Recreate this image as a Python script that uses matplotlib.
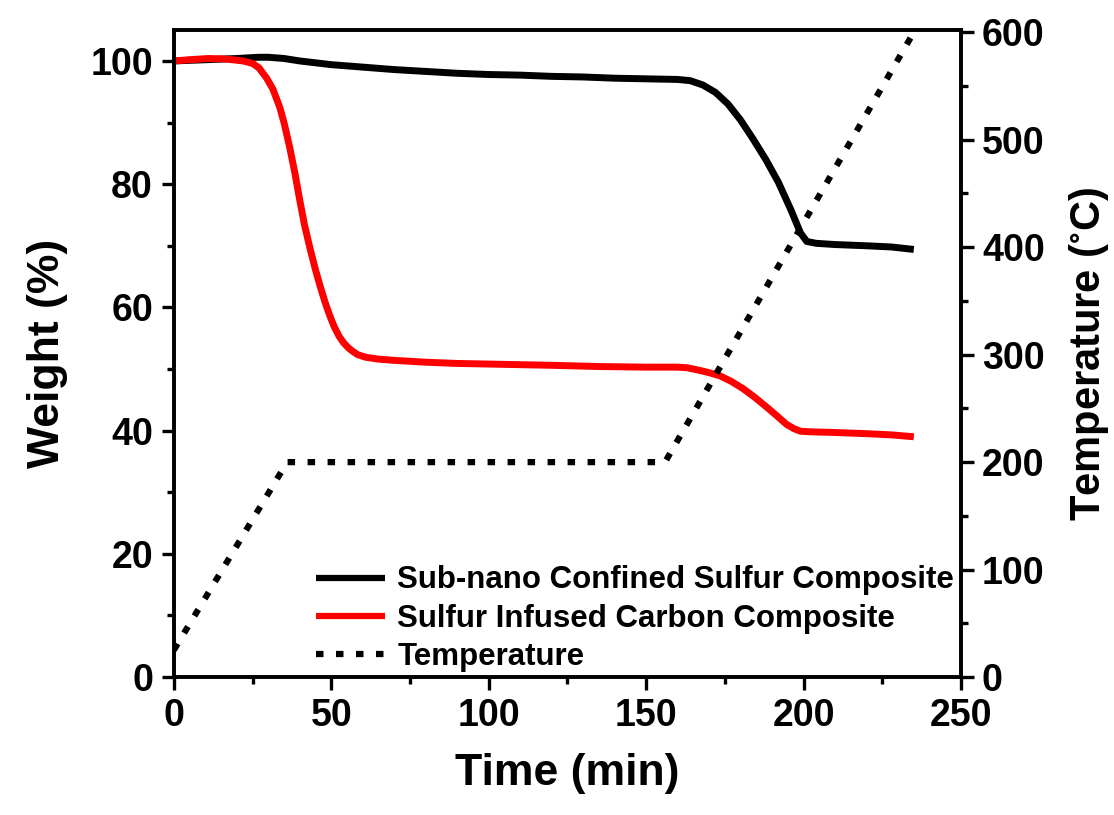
import matplotlib
matplotlib.use("Agg")
import matplotlib.pyplot as plt
from matplotlib.ticker import MultipleLocator

plt.rcParams['font.family'] = ['Liberation Sans', 'DejaVu Sans']
plt.rcParams['font.weight'] = 'bold'
plt.rcParams['mathtext.default'] = 'regular'

# Sub-nano confined sulfur composite (time in min, weight in %)
t_subnano = [0, 10, 20, 27, 30, 35, 40, 45, 50, 60, 70, 80, 90, 100, 110, 120,
             130, 140, 150, 160, 164, 168, 172, 176, 180, 184, 188, 192, 196,
             199, 201, 204, 210, 220, 228, 235]
w_subnano = [100.0, 100.2, 100.4, 100.6, 100.6, 100.4, 100.0, 99.7, 99.4, 99.0,
             98.6, 98.3, 98.0, 97.8, 97.7, 97.5, 97.4, 97.2, 97.1, 97.0, 96.8,
             96.1, 94.9, 93.0, 90.4, 87.3, 84.0, 80.3, 75.8, 72.1, 70.7, 70.4,
             70.2, 70.0, 69.8, 69.4]

# Sulfur infused carbon composite
t_infused = [0, 5, 11, 17, 22, 25, 27, 29.5, 31.5, 33.7, 35, 36.8, 38.5, 40, 41.5,
             43.2, 45, 46.5, 48, 49.5, 51, 52.5, 54, 55.5, 57, 58.5, 61, 65, 70,
             80, 90, 100, 110, 120, 135, 150, 160, 163, 166.8, 170, 173.4, 177,
             180.8, 184.5, 188.3, 191.5, 194.6, 197, 199, 202, 209.4, 220, 228, 235]
w_infused = [100.0, 100.2, 100.4, 100.3, 100.0, 99.6, 98.9, 97.2, 95.4, 92.4, 90.0,
             86.0, 81.7, 77.4, 73.4, 69.7, 66.1, 63.4, 60.9, 58.7, 56.8, 55.3,
             54.2, 53.4, 52.8, 52.3, 51.9, 51.6, 51.4, 51.1, 50.9, 50.8, 50.7,
             50.6, 50.4, 50.3, 50.3, 50.2, 49.8, 49.4, 48.9, 48.0, 46.8, 45.4,
             43.8, 42.4, 41.0, 40.3, 39.9, 39.8, 39.7, 39.5, 39.3, 39.0]

# Temperature program
t_temp = [0, 36, 156, 234]
temp_c = [25, 200, 200, 595]

fig = plt.figure(figsize=(11.14, 8.15), dpi=100)
ax = fig.add_axes([0.156, 0.1693, 0.7067, 0.7937])
ax2 = ax.twinx()

l1, = ax.plot(t_subnano, w_subnano, color='black', lw=5.0, solid_capstyle='butt',
              solid_joinstyle='round', label='Sub-nano Confined Sulfur Composite')
l2, = ax.plot(t_infused, w_infused, color='#ff0000', lw=5.0, solid_capstyle='butt',
              solid_joinstyle='round', label='Sulfur Infused Carbon Composite')
l3, = ax2.plot(t_temp, temp_c, color='black', lw=4.5, linestyle=(0, (1.2, 2.0)),
               dash_capstyle='butt', label='Temperature')

ax.set_xlim(0, 250)
ax.set_ylim(0, 105)
ax2.set_ylim(0, 602)

ax.xaxis.set_major_locator(MultipleLocator(50))
ax.xaxis.set_minor_locator(MultipleLocator(25))
ax.yaxis.set_major_locator(MultipleLocator(20))
ax.yaxis.set_minor_locator(MultipleLocator(10))
ax2.yaxis.set_major_locator(MultipleLocator(100))
ax2.yaxis.set_minor_locator(MultipleLocator(50))

for a in (ax, ax2):
    for s in a.spines.values():
        s.set_linewidth(2.6)
    a.tick_params(which='major', direction='out', length=9, width=2.4, labelsize=27, pad=6)
    a.tick_params(which='minor', direction='out', length=5, width=2.4)
ax.tick_params(top=False, right=False, which='both')

ax.set_xlabel('Time (min)', fontsize=32, fontweight='bold', labelpad=14)
ax.set_ylabel('Weight (%)', fontsize=32, fontweight='bold', labelpad=16)
ax2.set_ylabel('Temperature ($^{\\circ}$C)', fontsize=30, fontweight='bold', labelpad=16)

leg = ax.legend(handles=[l1, l2, l3], loc='lower left', bbox_to_anchor=(0.175, 0.0),
                frameon=False, fontsize=22.5, handlelength=2.2, handletextpad=0.4,
                labelspacing=0.27, borderpad=0.15, borderaxespad=0.0)
for h in leg.get_lines():
    h.set_linewidth(4.5)

fig.savefig('out.png', dpi=100)
